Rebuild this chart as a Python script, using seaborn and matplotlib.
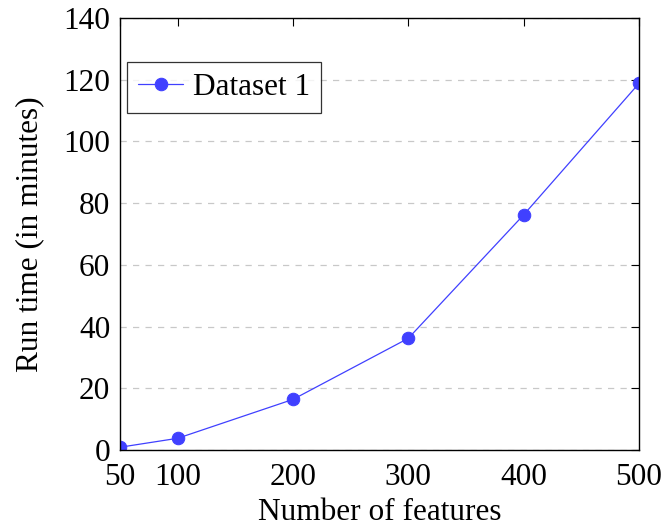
import matplotlib
matplotlib.use("Agg")
import matplotlib.pyplot as plt
import seaborn as sns
import pandas as pd

features = [50, 100, 200, 300, 400, 500]
runtime = [0.9, 3.8, 16.4, 36.2, 76.2, 118.8]
series_name = "Dataset 1"
x_ticks = [50, 100, 200, 300, 400, 500]
y_ticks = [0, 20, 40, 60, 80, 100, 120, 140]

sns.set_theme(style="white")
plt.rcParams['font.family'] = ['Liberation Serif', 'DejaVu Serif']
plt.rcParams['text.color'] = 'black'
plt.rcParams['axes.labelcolor'] = 'black'
plt.rcParams['xtick.color'] = 'black'
plt.rcParams['ytick.color'] = 'black'

df = pd.DataFrame({"features": features, "runtime": runtime, "series": series_name})

fig = plt.figure(figsize=(6.64, 5.29), dpi=100)
ax = fig.add_axes([0.1807, 0.1493, 0.7816, 0.8167])

blue = "#4040ff"
sns.lineplot(data=df, x="features", y="runtime", hue="series", palette=[blue],
             marker="o", markersize=9, markeredgecolor=blue, linewidth=0.9, ax=ax)

ax.set_xlim(50, 500)
ax.set_ylim(0, 140)
ax.set_xticks(x_ticks)
ax.set_yticks(y_ticks)
ax.tick_params(direction="in", length=6, width=0.8,
               labelsize=22.5, top=True, right=True, labelcolor="black")
ax.tick_params(axis="x", pad=9)
ax.tick_params(axis="y", pad=7)
for t in ax.get_xticklines() + ax.get_yticklines():
    t.set_color("#666666")
ax.yaxis.grid(True, linestyle=(0, (5, 5)), color="#c8c8c8", linewidth=0.9)
ax.xaxis.grid(False)
for s in ax.spines.values():
    s.set_color("black")
    s.set_linewidth(1.0)
ax.set_xlabel("Number of features", fontsize=22.5, labelpad=5, color="black")
ax.set_ylabel("Run time (in minutes)", fontsize=22.5, labelpad=14, color="black")

leg = ax.legend(loc="upper left", bbox_to_anchor=(0.0135, 0.897), fontsize=22.5,
                frameon=True, fancybox=False, edgecolor="black", handlelength=1.45,
                borderpad=0.35, handletextpad=0.3, borderaxespad=0)
leg.get_frame().set_linewidth(0.9)
for t in leg.get_texts():
    t.set_color("black")

fig.savefig("out.png", dpi=100)
